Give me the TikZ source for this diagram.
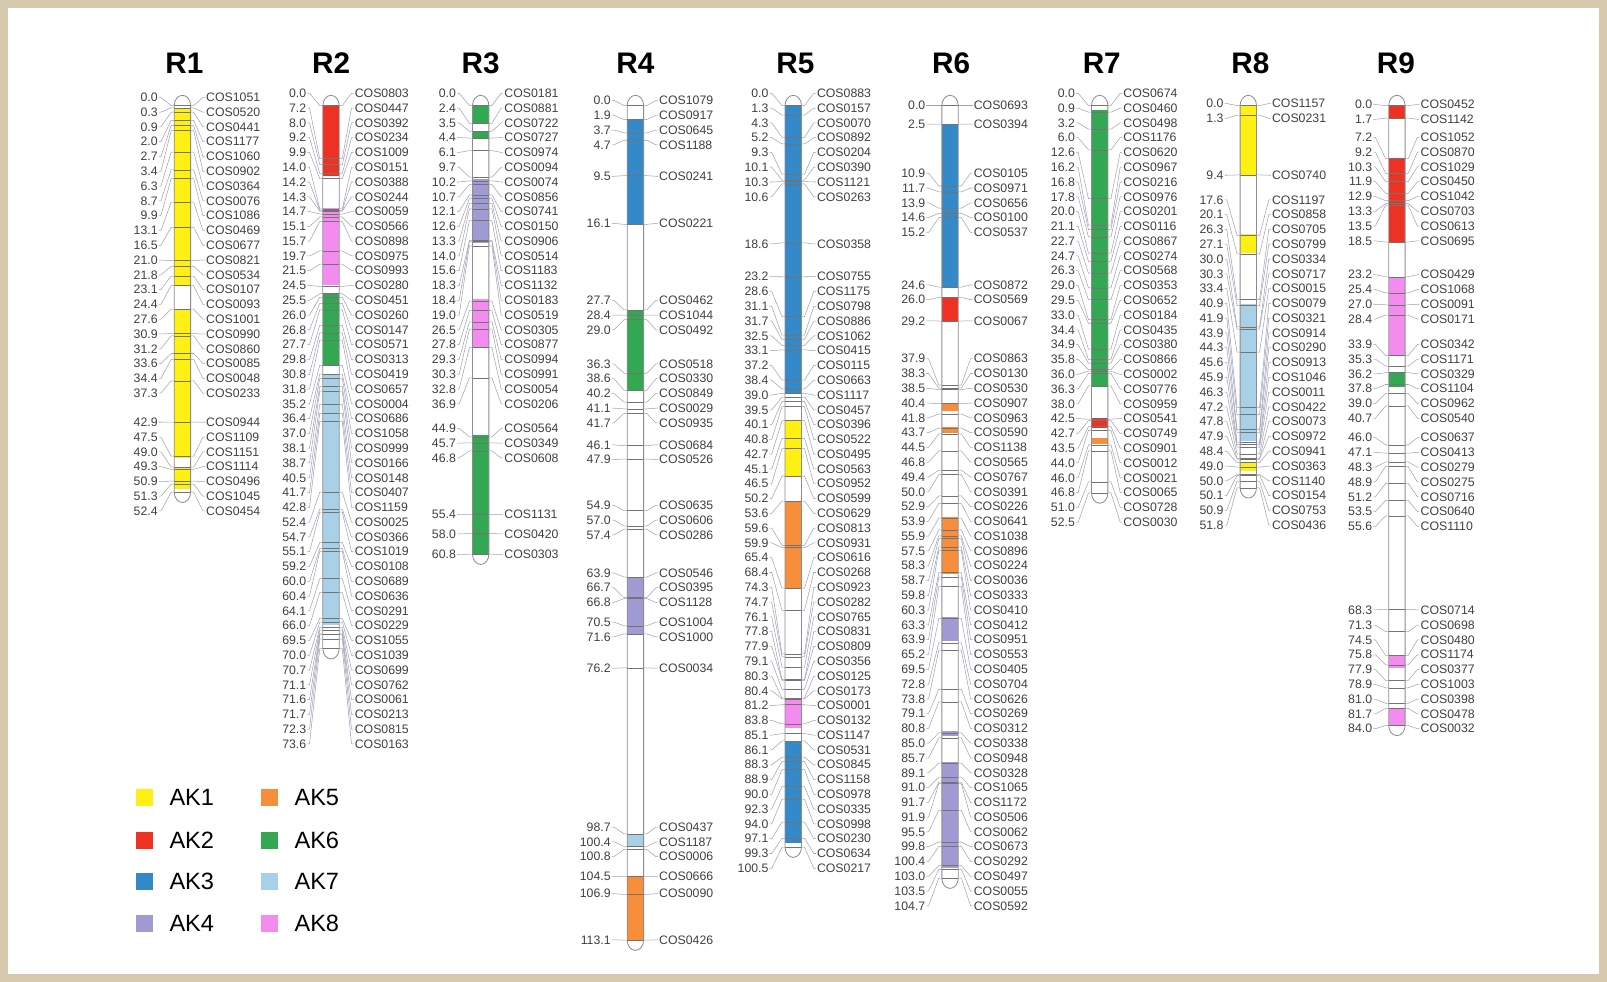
\documentclass[tikz,border=0pt]{standalone}
\usepackage{fontspec}
\setmainfont{Liberation Sans}
\usetikzlibrary{positioning}

\definecolor{framec}{RGB}{214,201,173}
\definecolor{connc}{RGB}{160,160,182}
\definecolor{ak1}{RGB}{255,240,20}
\definecolor{ak2}{RGB}{237,50,36}
\definecolor{ak3}{RGB}{52,137,201}
\definecolor{ak4}{RGB}{160,155,210}
\definecolor{ak5}{RGB}{246,142,60}
\definecolor{ak6}{RGB}{50,168,82}
\definecolor{ak7}{RGB}{168,208,230}
\definecolor{ak8}{RGB}{244,140,240}

\tikzset{
  bar/.style={draw=black!45, line width=0.8pt},
  mk/.style={draw=black!55, line width=0.5pt},
  conn/.style={draw=connc, line width=0.5pt},
  lbl/.style={font=\fontsize{12}{12}\selectfont, text=black!75, inner sep=1pt},
  title/.style={font=\fontsize{29}{29}\selectfont\bfseries},
  keybox/.style={minimum size=16pt, inner sep=0pt},
  keytext/.style={font=\fontsize{23}{23}\selectfont, inner sep=0pt}
}

% chromosome outline: x, length (cM), options
\newcommand{\chrbar}[3]{%
  \path[#3] ({#1-8},103) -- ({#1-8},{103+7.2*#2})
    arc[start angle=180, end angle=0, x radius=8, y radius=10]
    -- ({#1+8},103)
    arc[start angle=0, end angle=-180, x radius=8, y radius=10] -- cycle;}
% coloured block: x, from, to, colour
\newcommand{\chrblock}[4]{%
  \fill[#4] ({#1-8},{103+7.2*#2}) rectangle ({#1+8},{103+7.2*#3});}
% markers: x, first label row, list cM/name
\newcommand{\chrgroup}[3]{%
  \foreach \c/\n [count=\i from 0] in {#3}{
    \pgfmathsetmacro{\ly}{#2+14.43*\i}
    \pgfmathsetmacro{\my}{103+7.2*\c}
    \coordinate (a\n) at ({#1-8},\my);
    \coordinate (b\n) at ({#1+8},\my);
    \draw[mk] (a\n) -- (b\n);
    \node[lbl, anchor=east] (p\n) at ({#1-23},\ly) {\c};
    \node[lbl, anchor=west] (\n) at ({#1+22},\ly) {\n};
    \draw[conn] (p\n.east) -- ++(2,0) -- ([xshift=-3pt]a\n) -- (a\n);
    \draw[conn] (\n.west) -- ++(-2,0) -- ([xshift=3pt]b\n) -- (b\n);
  }}

\begin{document}
\begin{tikzpicture}[x=1pt,y=-1pt]
\useasboundingbox (0,0) rectangle (1568,958);
\fill[framec] (0,0) rectangle (1568,958);
\fill[white] (8,8) rectangle (1560,950);

% R1
\node[title] (tR1) at (180,62) {R1};
\chrbar{178}{52.4}{fill=white}
\chrblock{178}{0.3}{24.3}{ak1}
\chrblock{178}{27.6}{47.8}{ak1}
\chrblock{178}{49.0}{52.0}{ak1}
\chrgroup{178}{95}{0.0/COS1051,0.3/COS0520,0.9/COS0441,2.0/COS1177,2.7/COS1060,
  3.4/COS0902,6.3/COS0364,8.7/COS0076,9.9/COS1086,13.1/COS0469,16.5/COS0677,
  21.0/COS0821,21.8/COS0534,23.1/COS0107,24.4/COS0093,27.6/COS1001,30.9/COS0990,
  31.2/COS0860,33.6/COS0085,34.4/COS0048,37.3/COS0233}
\chrgroup{178}{412}{42.9/COS0944,47.5/COS1109,49.0/COS1151,49.3/COS1114,
  50.9/COS0496,51.3/COS1045,52.4/COS0454}
\chrbar{178}{52.4}{bar}

% R2
\node[title] (tR2) at (323,62) {R2};
\chrbar{323}{73.6}{fill=white}
\chrblock{323}{0.0}{9.6}{ak2}
\chrblock{323}{13.9}{24.3}{ak8}
\chrblock{323}{25.4}{35.1}{ak6}
\chrblock{323}{36.4}{70.4}{ak7}
\chrgroup{323}{91}{0.0/COS0803,7.2/COS0447,8.0/COS0392,9.2/COS0234,9.9/COS1009,
  14.0/COS0151,14.2/COS0388,14.3/COS0244,14.7/COS0059,15.1/COS0566,15.7/COS0898,
  19.7/COS0975,21.5/COS0993,24.5/COS0280,25.5/COS0451,26.0/COS0260,26.8/COS0147,
  27.7/COS0571,29.8/COS0313,30.8/COS0419,31.8/COS0657,35.2/COS0004,36.4/COS0686,
  37.0/COS1058,38.1/COS0999,38.7/COS0166,40.5/COS0148,41.7/COS0407,42.8/COS1159,
  52.4/COS0025,54.7/COS0366,55.1/COS1019,59.2/COS0108,60.0/COS0689,60.4/COS0636,
  64.1/COS0291,66.0/COS0229,69.5/COS1055,70.0/COS1039,70.7/COS0699,71.1/COS0762,
  71.6/COS0061,71.7/COS0213,72.3/COS0815,73.6/COS0163}
\chrbar{323}{73.6}{bar}

% R3
\node[title] (tR3) at (469,62) {R3};
\chrbar{469}{60.8}{fill=white}
\chrblock{469}{0.0}{2.4}{ak6}
\chrblock{469}{3.5}{4.4}{ak6}
\chrblock{469}{10.0}{18.6}{ak4}
\chrblock{469}{26.2}{32.9}{ak8}
\chrblock{469}{44.7}{60.8}{ak6}
\chrgroup{469}{91}{0.0/COS0181,2.4/COS0881,3.5/COS0722,4.4/COS0727,6.1/COS0974,
  9.7/COS0094,10.2/COS0074,10.7/COS0856,12.1/COS0741,12.6/COS0150,13.3/COS0906,
  14.0/COS0514,15.6/COS1183,18.3/COS1132,18.4/COS0183,19.0/COS0519,26.5/COS0305,
  27.8/COS0877,29.3/COS0994,30.3/COS0991,32.8/COS0054,36.9/COS0206}
\chrgroup{469}{418}{44.9/COS0564,45.7/COS0349,46.8/COS0608}
\chrgroup{469}{502}{55.4/COS1131}
\chrgroup{469}{521}{58.0/COS0420}
\chrgroup{469}{541}{60.8/COS0303}
\chrbar{469}{60.8}{bar}

% R4
\node[title] (tR4) at (620,62) {R4};
\chrbar{620}{113.1}{fill=white}
\chrblock{620}{1.9}{16.1}{ak3}
\chrblock{620}{27.7}{38.6}{ak6}
\chrblock{620}{63.9}{71.6}{ak4}
\chrblock{620}{98.7}{100.4}{ak7}
\chrblock{620}{104.5}{113.1}{ak5}
\chrgroup{620}{98}{0.0/COS1079,1.9/COS0917,3.7/COS0645,4.7/COS1188}
\chrgroup{620}{172}{9.5/COS0241}
\chrgroup{620}{218}{16.1/COS0221}
\chrgroup{620}{293}{27.7/COS0462,28.4/COS1044,29.0/COS0492}
\chrgroup{620}{355}{36.3/COS0518,38.6/COS0330,40.2/COS0849,41.1/COS0029,41.7/COS0935}
\chrgroup{620}{434}{46.1/COS0684,47.9/COS0526}
\chrgroup{620}{493}{54.9/COS0635,57.0/COS0606,57.4/COS0286}
\chrgroup{620}{559}{63.9/COS0546,66.7/COS0395,66.8/COS1128}
\chrgroup{620}{607}{70.5/COS1004,71.6/COS1000}
\chrgroup{620}{652}{76.2/COS0034}
\chrgroup{620}{807}{98.7/COS0437,100.4/COS1187,100.8/COS0006}
\chrgroup{620}{855}{104.5/COS0666}
\chrgroup{620}{872}{106.9/COS0090}
\chrgroup{620}{917}{113.1/COS0426}
\chrbar{620}{113.1}{bar}

% R5
\node[title] (tR5) at (776,62) {R5};
\chrbar{774}{100.5}{fill=white}
\chrblock{774}{0.0}{39.0}{ak3}
\chrblock{774}{42.7}{50.2}{ak1}
\chrblock{774}{53.6}{65.4}{ak5}
\chrblock{774}{80.4}{84.4}{ak8}
\chrblock{774}{86.1}{100.0}{ak3}
\chrgroup{774}{91}{0.0/COS0883,1.3/COS0157,4.3/COS0070,5.2/COS0892,9.3/COS0204,
  10.1/COS0390,10.3/COS1121,10.6/COS0263}
\chrgroup{774}{238}{18.6/COS0358}
\chrgroup{774}{270}{23.2/COS0755,28.6/COS1175,31.1/COS0798,31.7/COS0886,32.5/COS1062,
  33.1/COS0415,37.2/COS0115,38.4/COS0663,39.0/COS1117,39.5/COS0457,40.1/COS0396,
  40.8/COS0522,42.7/COS0495,45.1/COS0563,46.5/COS0952,50.2/COS0599,53.6/COS0629,
  59.6/COS0813,59.9/COS0931,65.4/COS0616,68.4/COS0268,74.3/COS0923,74.7/COS0282,
  76.1/COS0765,77.8/COS0831,77.9/COS0809,79.1/COS0356,80.3/COS0125,80.4/COS0173,
  81.2/COS0001,83.8/COS0132,85.1/COS1147,86.1/COS0531,88.3/COS0845,88.9/COS1158,
  90.0/COS0978,92.3/COS0335,94.0/COS0998,97.1/COS0230,99.3/COS0634,100.5/COS0217}
\chrbar{774}{100.5}{bar}

% R6
\node[title] (tR6) at (928,62) {R6};
\chrbar{927}{104.7}{fill=white}
\chrblock{927}{2.5}{24.6}{ak3}
\chrblock{927}{26.0}{29.2}{ak2}
\chrblock{927}{40.3}{41.4}{ak5}
\chrblock{927}{43.6}{44.4}{ak5}
\chrblock{927}{55.7}{63.5}{ak5}
\chrblock{927}{69.3}{72.6}{ak4}
\chrblock{927}{84.7}{85.4}{ak4}
\chrblock{927}{89.0}{103.3}{ak4}
\chrgroup{927}{103}{0.0/COS0693}
\chrgroup{927}{121}{2.5/COS0394}
\chrgroup{927}{169}{10.9/COS0105,11.7/COS0971,13.9/COS0656,14.6/COS0100,15.2/COS0537}
\chrgroup{927}{278}{24.6/COS0872,26.0/COS0569}
\chrgroup{927}{313}{29.2/COS0067}
\chrgroup{927}{350}{37.9/COS0863,38.3/COS0130,38.5/COS0530,40.4/COS0907,41.8/COS0963,
  43.7/COS0590,44.5/COS1138,46.8/COS0565,49.4/COS0767,50.0/COS0391,52.9/COS0226,
  53.9/COS0641,55.9/COS1038,57.5/COS0896,58.3/COS0224,58.7/COS0036,59.8/COS0333,
  60.3/COS0410,63.3/COS0412,63.9/COS0951,65.2/COS0553,69.5/COS0405,72.8/COS0704,
  73.8/COS0626,79.1/COS0269,80.8/COS0312,85.0/COS0338,85.7/COS0948,89.1/COS0328,
  91.0/COS1065,91.7/COS1172,91.9/COS0506,95.5/COS0062,99.8/COS0673,100.4/COS0292,
  103.0/COS0497,103.5/COS0055,104.7/COS0592}
\chrbar{927}{104.7}{bar}

% R7
\node[title] (tR7) at (1075,62) {R7};
\chrbar{1073}{52.5}{fill=white}
\chrblock{1073}{0.6}{38.0}{ak6}
\chrblock{1073}{42.4}{43.7}{ak2}
\chrblock{1073}{45.0}{45.8}{ak5}
\chrgroup{1073}{91}{0.0/COS0674,0.9/COS0460,3.2/COS0498,6.0/COS1176,12.6/COS0620,
  16.2/COS0967,16.8/COS0216,17.8/COS0976,20.0/COS0201,21.1/COS0116,22.7/COS0867,
  24.7/COS0274,26.3/COS0568,29.0/COS0353,29.5/COS0652,33.0/COS0184,34.4/COS0435,
  34.9/COS0380,35.8/COS0866,36.0/COS0002,36.3/COS0776,38.0/COS0959,42.5/COS0541,
  42.7/COS0749,43.5/COS0901,44.0/COS0012,46.0/COS0021,46.8/COS0065,51.0/COS0728,
  52.5/COS0030}
\chrbar{1073}{52.5}{bar}

% R8
\node[title] (tR8) at (1220,62) {R8};
\chrbar{1218}{51.8}{fill=white}
\chrblock{1218}{0.0}{9.5}{ak1}
\chrblock{1218}{17.4}{20.0}{ak1}
\chrblock{1218}{26.9}{45.4}{ak7}
\chrblock{1218}{48.3}{49.5}{ak1}
\chrgroup{1218}{101}{0.0/COS1157,1.3/COS0231}
\chrgroup{1218}{171}{9.4/COS0740}
\chrgroup{1218}{195}{17.6/COS1197,20.1/COS0858,26.3/COS0705,27.1/COS0799,30.0/COS0334,
  30.3/COS0717,33.4/COS0015,40.9/COS0079,41.9/COS0321,43.9/COS0914,44.3/COS0290,
  45.6/COS0913,45.9/COS1046,46.3/COS0011,47.2/COS0422,47.8/COS0073,47.9/COS0972,
  48.4/COS0941,49.0/COS0363,50.0/COS1140,50.1/COS0154,50.9/COS0753,51.8/COS0436}
\chrbar{1218}{51.8}{bar}

% R9
\node[title] (tR9) at (1362,62) {R9};
\chrbar{1363}{84.0}{fill=white}
\chrblock{1363}{0.0}{1.7}{ak2}
\chrblock{1363}{7.2}{18.5}{ak2}
\chrblock{1363}{23.2}{33.9}{ak8}
\chrblock{1363}{36.2}{38.2}{ak6}
\chrblock{1363}{74.6}{76.2}{ak8}
\chrblock{1363}{81.7}{84.0}{ak8}
\chrgroup{1363}{102}{0.0/COS0452,1.7/COS1142}
\chrgroup{1363}{134}{7.2/COS1052,9.2/COS0870,10.3/COS1029,11.9/COS0450,12.9/COS1042,
  13.3/COS0703,13.5/COS0613,18.5/COS0695}
\chrgroup{1363}{268}{23.2/COS0429,25.4/COS1068,27.0/COS0091,28.4/COS0171}
\chrgroup{1363}{336}{33.9/COS0342,35.3/COS1171,36.2/COS0329,37.8/COS1104,39.0/COS0962,
  40.7/COS0540}
\chrgroup{1363}{427}{46.0/COS0637,47.1/COS0413,48.3/COS0279,48.9/COS0275,51.2/COS0716,
  53.5/COS0640,55.6/COS1110}
\chrgroup{1363}{595}{68.3/COS0714}
\chrgroup{1363}{610}{71.3/COS0698,74.5/COS0480,75.8/COS1174,77.9/COS0377,78.9/COS1003,
  81.0/COS0398,81.7/COS0478,84.0/COS0032}
\chrbar{1363}{84.0}{bar}

% legend
\foreach \k/\x/\y in {1/141/778,2/141/820,3/141/860,4/141/901,
                      5/263/778,6/263/820,7/263/860,8/263/901}{
  \node[keybox, fill=ak\k] (key\k) at (\x,\y) {};
  \node[keytext, right=16pt of key\k] (keyt\k) {AK\k};
}
\end{tikzpicture}
\end{document}
